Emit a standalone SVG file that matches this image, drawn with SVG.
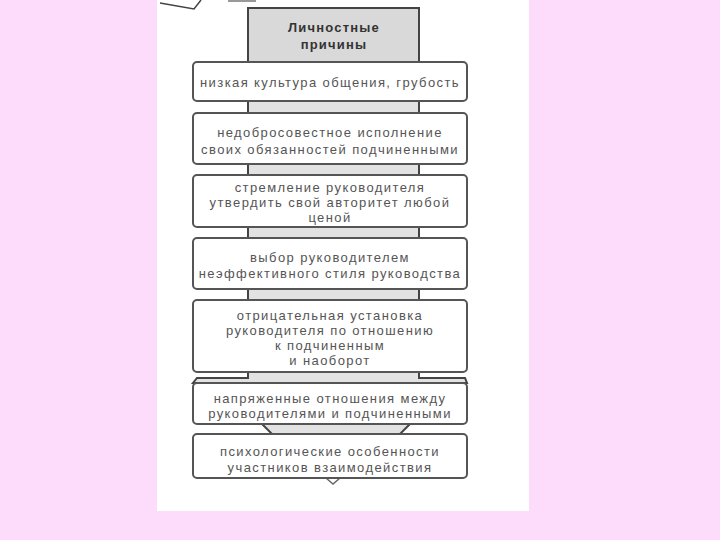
<svg xmlns="http://www.w3.org/2000/svg" width="720" height="540" viewBox="0 0 720 540">
<style>
.box{fill:#fff;stroke:#555;stroke-width:2}
.t{font-family:"Liberation Sans",Arial,sans-serif;font-size:13px;letter-spacing:1.4px;fill:#555;text-anchor:middle}
.h{font-family:"Liberation Sans",Arial,sans-serif;font-size:13px;letter-spacing:1.2px;font-weight:bold;fill:#333;text-anchor:middle}
.col{fill:#e2e2e2;stroke:#444;stroke-width:2}
</style>
<rect width="720" height="540" fill="#fcdcfa"/>
<rect x="157" y="0" width="372" height="511" fill="#fff"/>
<g id="topfragment">
<polyline points="160,3 194,9 201,0" fill="none" stroke="#444" stroke-width="1.5"/>
<rect x="228" y="0" width="28" height="2" fill="#999"/>
</g>
<g id="connectors">
<path class="col" d="M248,8 H419 V378 H465 L467,383 H193 L197,378 H248 Z"/>
<path class="col" d="M262,424 H410 L400,434 H272 Z"/>
<path d="M326,478 L333,484 L340,478" fill="none" stroke="#666" stroke-width="1.5"/>
</g>
<g id="header">
<rect x="248" y="8" width="171" height="54" fill="#d9d9d9" stroke="#444" stroke-width="2"/>
<text class="h" x="334" y="32">Личностные</text>
<text class="h" x="334" y="49">причины</text>
</g>
<g id="n1">
<rect class="box" x="193" y="62" width="274" height="39" rx="4"/>
<text class="t" x="330" y="87">низкая культура общения, грубость</text>
</g>
<g id="n2">
<rect class="box" x="193" y="113" width="274" height="51" rx="4"/>
<text class="t" x="330" y="137">недобросовестное исполнение</text>
<text class="t" x="330" y="154">своих обязанностей подчиненными</text>
</g>
<g id="n3">
<rect class="box" x="193" y="175" width="274" height="52" rx="4"/>
<text class="t" x="330" y="192">стремление руководителя</text>
<text class="t" x="330" y="207">утвердить свой авторитет любой</text>
<text class="t" x="330" y="222">ценой</text>
</g>
<g id="n4">
<rect class="box" x="193" y="238" width="274" height="51" rx="4"/>
<text class="t" x="330" y="262">выбор руководителем</text>
<text class="t" x="330" y="278">неэффективного стиля руководства</text>
</g>
<g id="n5">
<rect class="box" x="193" y="300" width="274" height="72" rx="4"/>
<text class="t" x="330" y="320">отрицательная установка</text>
<text class="t" x="330" y="335">руководителя по отношению</text>
<text class="t" x="330" y="350">к подчиненным</text>
<text class="t" x="330" y="365">и наоборот</text>
</g>
<g id="n6">
<rect class="box" x="193" y="383" width="274" height="41" rx="4"/>
<text class="t" x="330" y="403">напряженные отношения между</text>
<text class="t" x="330" y="418">руководителями и подчиненными</text>
</g>
<g id="n7">
<rect class="box" x="193" y="434" width="274" height="44" rx="4"/>
<text class="t" x="330" y="456">психологические особенности</text>
<text class="t" x="330" y="472">участников взаимодействия</text>
</g>
</svg>
